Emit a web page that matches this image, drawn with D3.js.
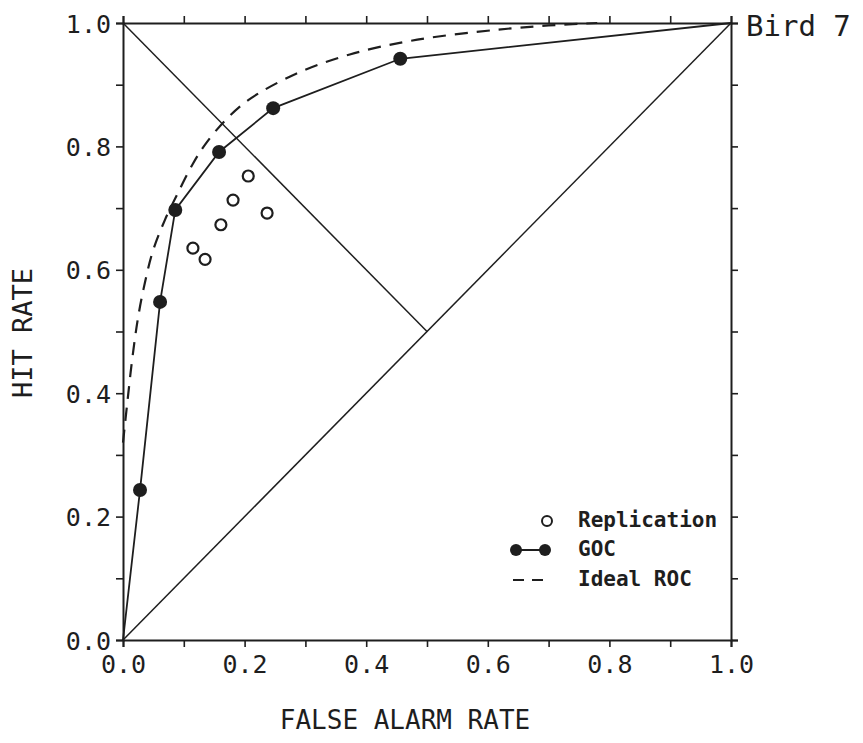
<!DOCTYPE html>
<html><head><meta charset="utf-8">
<script src="https://cdn.jsdelivr.net/npm/d3@7"></script>
<style>body{margin:0;background:#fff}svg{display:block}</style>
</head><body>
<svg id="c" width="863" height="743"></svg>
<script>
const gocPoints = [[0,0],[0.028,0.243],[0.061,0.548],[0.086,0.697],[0.158,0.791],[0.247,0.862],[0.456,0.942],[1,1]];
const gocMarkers = [[0.028,0.243],[0.061,0.548],[0.086,0.697],[0.158,0.791],[0.247,0.862],[0.456,0.942]];
const replication = [[0.206,0.752],[0.181,0.713],[0.237,0.692],[0.161,0.673],[0.115,0.635],[0.135,0.617]];
const idealROC = [[0.0,0.32],[0.007,0.384],[0.015,0.454],[0.025,0.524],[0.036,0.579],[0.049,0.63],[0.069,0.681],[0.09,0.724],[0.115,0.772],[0.135,0.803],[0.168,0.842],[0.206,0.875],[0.283,0.917],[0.373,0.949],[0.484,0.973],[0.615,0.989],[0.70,0.996],[0.78,1.0]];
const chanceLine = [[0,0],[1,1]];
const minusDiag = [[0,1],[0.5,0.5]];
const tickLabels = [0,0.2,0.4,0.6,0.8,1.0];
const minorTicks = d3.range(0,11).map(i=>i/10);
const legendItems = ["Replication","GOC","Ideal ROC"];

const svg = d3.select("#c");
const ink = "#1e1e1e";
const x = d3.scaleLinear().domain([0,1]).range([123,731]);
const y = d3.scaleLinear().domain([0,1]).range([640,23]);
const mono = "'DejaVu Sans Mono', monospace";

const g = svg.append("g");
function axisG(axis, tr){
  const a = g.append("g").attr("transform", tr).call(axis);
  a.select(".domain").attr("stroke", ink).attr("stroke-width", 2);
  a.selectAll(".tick line").attr("stroke", ink).attr("stroke-width", 1.6);
  a.selectAll("text").attr("font-family", mono).attr("font-size", 25).attr("fill", ink);
  return a;
}
const fmt = d => tickLabels.some(t=>Math.abs(t-d)<1e-9) ? d3.format(".1f")(d) : "";
axisG(d3.axisBottom(x).tickValues(minorTicks).tickFormat(fmt).tickSizeOuter(0).tickSize(7).tickPadding(8), `translate(0,${y(0)})`);
axisG(d3.axisLeft(y).tickValues(minorTicks).tickFormat(fmt).tickSizeOuter(0).tickSize(7).tickPadding(5), `translate(${x(0)},0)`).selectAll("text").attr("dy","0.36em");
axisG(d3.axisTop(x).tickValues(minorTicks).tickFormat("").tickSizeOuter(0).tickSize(7), `translate(0,${y(1)})`);
axisG(d3.axisRight(y).tickValues(minorTicks).tickFormat("").tickSizeOuter(0).tickSize(7), `translate(${x(1)},0)`);

const line = d3.line().x(d=>x(d[0])).y(d=>y(d[1]));
svg.append("path").attr("d", line(chanceLine)).attr("fill","none").attr("stroke",ink).attr("stroke-width",1.5);
svg.append("path").attr("d", line(minusDiag)).attr("fill","none").attr("stroke",ink).attr("stroke-width",1.5);
const smooth = d3.line().x(d=>x(d[0])).y(d=>y(d[1])).curve(d3.curveCatmullRom.alpha(0.5));
svg.append("path").attr("d", smooth(idealROC)).attr("fill","none").attr("stroke",ink).attr("stroke-width",2.2).attr("stroke-dasharray","13,9");
svg.append("path").attr("d", line(gocPoints)).attr("fill","none").attr("stroke",ink).attr("stroke-width",1.8);
svg.selectAll(".goc").data(gocMarkers).join("circle").attr("cx",d=>x(d[0])).attr("cy",d=>y(d[1])).attr("r",7).attr("fill",ink);
svg.selectAll(".rep").data(replication).join("circle").attr("cx",d=>x(d[0])).attr("cy",d=>y(d[1])).attr("r",5.5).attr("fill","none").attr("stroke",ink).attr("stroke-width",2.2);

svg.append("text").attr("x",746).attr("y",36).attr("font-family",mono).attr("font-size",29).attr("fill",ink).text("Bird 7");
svg.append("text").attr("x",405).attr("y",729).attr("text-anchor","middle").attr("font-family",mono).attr("font-size",26).attr("fill",ink).text("FALSE ALARM RATE");
svg.append("text").attr("transform","translate(32,333) rotate(-90)").attr("text-anchor","middle").attr("font-family",mono).attr("font-size",27).attr("fill",ink).text("HIT RATE");

const lg = svg.append("g");
const ly = [521,550,580];
lg.append("circle").attr("cx",547).attr("cy",ly[0]).attr("r",5).attr("fill","none").attr("stroke",ink).attr("stroke-width",2);
lg.append("line").attr("x1",516).attr("x2",545).attr("y1",ly[1]).attr("y2",ly[1]).attr("stroke",ink).attr("stroke-width",2);
lg.append("circle").attr("cx",516).attr("cy",ly[1]).attr("r",6).attr("fill",ink);
lg.append("circle").attr("cx",545).attr("cy",ly[1]).attr("r",6).attr("fill",ink);
lg.append("line").attr("x1",513).attr("x2",546).attr("y1",ly[2]).attr("y2",ly[2]).attr("stroke",ink).attr("stroke-width",2).attr("stroke-dasharray","11,8");
lg.selectAll("text").data(legendItems).join("text").attr("x",578).attr("y",(d,i)=>ly[i]+6).attr("font-family",mono).attr("font-weight","bold").attr("font-size",21).attr("fill",ink).text(d=>d);
</script>
</body></html>
